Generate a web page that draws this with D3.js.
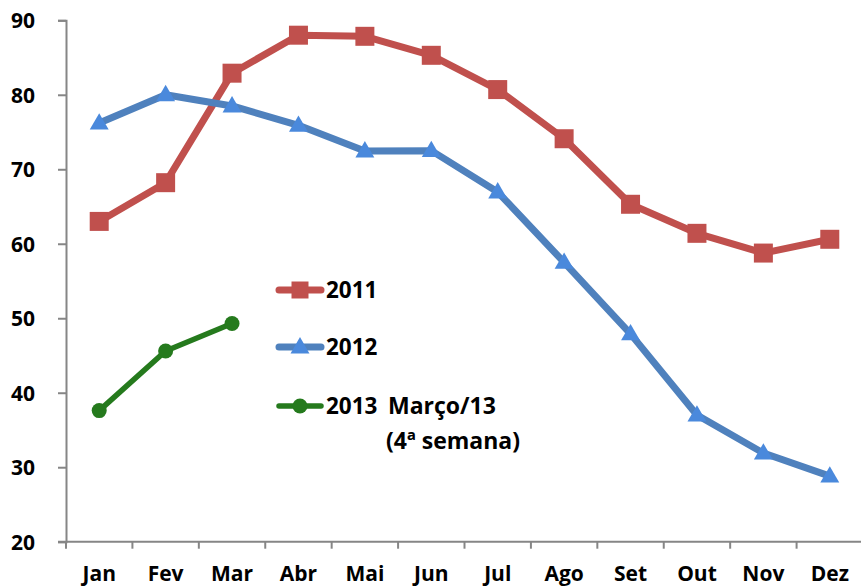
<!DOCTYPE html>
<html><head><meta charset="utf-8">
<script src="https://cdn.jsdelivr.net/npm/d3@7"></script>
<style>
body{margin:0;background:#fff;}
text{font-family:"Open Sans",sans-serif;font-weight:700;fill:#000;}
</style></head>
<body><svg id="c" width="861" height="587"></svg>
<script>
const months = ["Jan","Fev","Mar","Abr","Mai","Jun","Jul","Ago","Set","Out","Nov","Dez"];
const s2011 = [63.0,68.2,82.9,88.0,87.85,85.3,80.7,74.1,65.3,61.4,58.75,60.6];
const s2012 = [76.2,80.0,78.5,75.9,72.45,72.5,66.95,57.5,47.9,37.0,31.9,28.8];
const s2013 = [37.6,45.6,49.3];
const yTicks = [20,30,40,50,60,70,80,90];
const legendLabels = ["2011","2012","2013"];
const legendNote = ["Março/13","(4ª semana)"];

const svg = d3.select("#c");
const x = d3.scaleBand().domain(months).range([66,863]).paddingInner(0).paddingOuter(0);
const y = d3.scaleLinear().domain([20,90]).range([541.7,20.3]);
const cx = m => x(m) + x.bandwidth()/2;

// y axis
const ya = svg.append("g").attr("transform","translate(66,0)")
  .call(d3.axisLeft(y).tickValues(yTicks).tickSize(8).tickPadding(23).tickFormat(d3.format("d")));
ya.select(".domain").attr("stroke","#868686").attr("stroke-width",2);
ya.selectAll(".tick line").attr("stroke","#868686").attr("stroke-width",2);
ya.selectAll("text").style("font-size","21px").attr("dy","0.36em");

// x axis
const xa = svg.append("g").attr("transform","translate(0,"+y(20)+")")
  .call(d3.axisBottom(x).tickSize(0).tickPadding(39));
xa.select(".domain").remove();
xa.append("line").attr("x1",58).attr("x2",863).attr("stroke","#868686").attr("stroke-width",2);
const bounds = months.map(m=>x(m)).concat([x(months[11])+x.bandwidth()]);
xa.selectAll(".bt").data(bounds).enter().append("line")
  .attr("x1",d=>d).attr("x2",d=>d).attr("y1",0).attr("y2",7)
  .attr("stroke","#868686").attr("stroke-width",2);
xa.selectAll(".tick text").style("font-size","21px").attr("dy","0");

const line = d3.line().x((d,i)=>cx(months[i])).y(d=>y(d));

const cfg = [
 {data:s2011, color:"#C0504D", mcolor:"#C0504D", w:7, type:"square"},
 {data:s2012, color:"#4F81BD", mcolor:"#4A89DC", w:7, type:"triangle"},
 {data:s2013, color:"#257A1D", mcolor:"#257A1D", w:5.5, type:"circle"}
];
const symSize = {square:19*19, triangle:155, circle:Math.PI*7.5*7.5};
const symType = {square:d3.symbolSquare, triangle:d3.symbolTriangle, circle:d3.symbolCircle};

cfg.forEach(c=>{
  svg.append("path").datum(c.data).attr("d",line).attr("fill","none")
    .attr("stroke",c.color).attr("stroke-width",c.w).attr("stroke-linejoin","round");
});
cfg.forEach(c=>{
  svg.selectAll(null).data(c.data).enter().append("path")
    .attr("d",d3.symbol().type(symType[c.type]).size(symSize[c.type]))
    .attr("transform",(d,i)=>"translate("+cx(months[i])+","+(y(d)+(c.type==="triangle"?1:0))+")")
    .attr("fill",c.mcolor);
});

// legend
const legY = [290,347,406];
const lg = svg.append("g");
cfg.forEach((c,i)=>{
  lg.append("line").attr("x1",279).attr("x2",321).attr("y1",legY[i]).attr("y2",legY[i])
    .attr("stroke",c.color).attr("stroke-width",c.w).attr("stroke-linecap","round");
  lg.append("path").attr("d",d3.symbol().type(symType[c.type]).size(c.type==="square"?17*17:symSize[c.type]))
    .attr("transform","translate(300,"+(legY[i]+(c.type==="triangle"?1:0))+")").attr("fill",c.mcolor);
  lg.append("text").attr("x",326).attr("y",legY[i]).attr("dy","0.36em").style("font-size","22.5px").text(legendLabels[i]);
});
lg.append("text").attr("x",388).attr("y",406).attr("dy","0.36em").style("font-size","23px").text(legendNote[0]);
lg.append("text").attr("x",386).attr("y",441).attr("dy","0.36em").style("font-size","23px").text(legendNote[1]);
</script></body></html>
